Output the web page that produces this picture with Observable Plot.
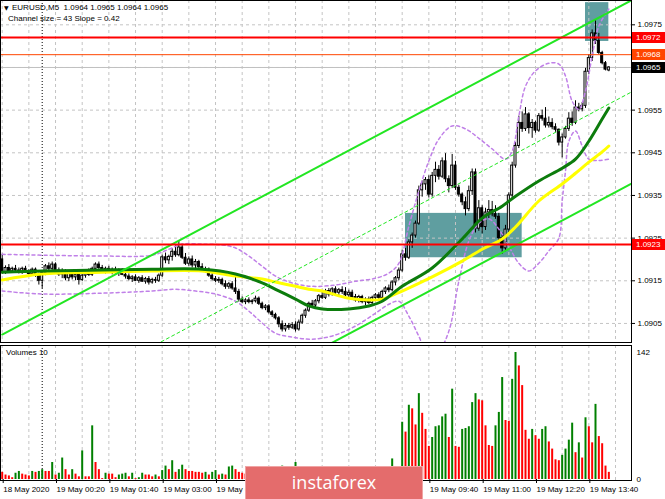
<!DOCTYPE html>
<html>
<head>
<meta charset="utf-8">
<script src="https://cdn.jsdelivr.net/npm/d3@7"></script>
<script src="https://cdn.jsdelivr.net/npm/@observablehq/plot@0.6"></script>
<style>
html,body{margin:0;padding:0;background:#fff;}
#chart{position:relative;width:665px;height:499px;overflow:hidden;background:#fff;font-family:"Liberation Sans",Arial,sans-serif;color:#000;}
#chart svg{position:absolute;left:0;}
.lbl{position:absolute;white-space:pre;font-size:8px;line-height:10px;}
.ln{position:absolute;background:#000;}
#logo{position:absolute;left:245px;top:466px;width:176px;height:32px;background:#e46c6c;border:1px solid #f0a4a4;color:#fff;font-family:"Open Sans",sans-serif;font-size:18px;line-height:31px;text-align:center;}
</style>
</head>
<body>
<div id="chart"></div>
<script>
// ---------- DATA ----------
const candleOpen = [
1.09200,1.09170,1.09180,1.09172,1.09178,1.09174,1.09170,1.09178,1.09172,1.09166,
1.09176,1.09162,1.09150,1.09168,1.09184,1.09178,1.09188,1.09174,1.09165,1.09170,
1.09156,1.09166,1.09158,1.09164,1.09152,1.09162,1.09172,1.09164,1.09178,1.09188,
1.09180,1.09172,1.09178,1.09170,1.09176,1.09168,1.09174,1.09164,1.09160,1.09154,
1.09158,1.09150,1.09156,1.09148,1.09154,1.09146,1.09152,1.09150,1.09162,1.09205,
1.09198,1.09206,1.09218,1.09210,1.09228,1.09204,1.09190,1.09200,1.09186,1.09194,
1.09182,1.09174,1.09176,1.09162,1.09154,1.09150,1.09152,1.09142,1.09136,1.09142,
1.09132,1.09124,1.09106,1.09100,1.09104,1.09100,1.09102,1.09108,1.09096,1.09086,
1.09090,1.09076,1.09070,1.09062,1.09048,1.09036,1.09044,1.09040,1.09046,1.09036,
1.09052,1.09068,1.09080,1.09096,1.09092,1.09102,1.09114,1.09110,1.09126,1.09118,
1.09130,1.09122,1.09128,1.09124,1.09116,1.09122,1.09112,1.09104,1.09112,1.09100,
1.09106,1.09098,1.09110,1.09116,1.09110,1.09124,1.09132,1.09128,1.09146,1.09156,
1.09174,1.09212,1.09204,1.09240,1.09256,1.09284,1.09362,1.09376,1.09386,1.09352,
1.09396,1.09410,1.09394,1.09430,1.09388,1.09372,1.09420,1.09368,1.09352,1.09334,
1.09318,1.09360,1.09404,1.09272,1.09320,1.09276,1.09310,1.09316,1.09306,1.09300,
1.09250,1.09226,1.09270,1.09350,1.09420,1.09466,1.09520,1.09506,1.09540,1.09508,
1.09520,1.09502,1.09536,1.09530,1.09514,1.09520,1.09510,1.09504,1.09474,1.09486,
1.09506,1.09530,1.09520,1.09556,1.09552,1.09560,1.09640,1.09672,1.09730,1.09712,
1.09684,1.09660,1.09643];
const candleHigh = [
1.09212,1.09185,1.09188,1.09182,1.09186,1.09180,1.09182,1.09184,1.09176,1.09180,
1.09180,1.09168,1.09172,1.09188,1.09192,1.09194,1.09192,1.09180,1.09178,1.09176,
1.09170,1.09172,1.09168,1.09170,1.09166,1.09176,1.09178,1.09182,1.09192,1.09194,
1.09186,1.09182,1.09184,1.09180,1.09182,1.09178,1.09178,1.09170,1.09166,1.09162,
1.09164,1.09160,1.09162,1.09158,1.09160,1.09156,1.09158,1.09166,1.09210,1.09215,
1.09210,1.09225,1.09232,1.09242,1.09236,1.09214,1.09206,1.09208,1.09200,1.09198,
1.09190,1.09182,1.09180,1.09168,1.09160,1.09158,1.09156,1.09150,1.09146,1.09148,
1.09162,1.09130,1.09112,1.09108,1.09110,1.09106,1.09114,1.09112,1.09100,1.09094,
1.09094,1.09080,1.09074,1.09066,1.09056,1.09050,1.09050,1.09052,1.09054,1.09058,
1.09072,1.09084,1.09100,1.09104,1.09106,1.09118,1.09126,1.09130,1.09132,1.09134,
1.09136,1.09132,1.09136,1.09134,1.09128,1.09128,1.09118,1.09116,1.09116,1.09110,
1.09112,1.09114,1.09120,1.09122,1.09128,1.09136,1.09140,1.09150,1.09160,1.09180,
1.09222,1.09226,1.09246,1.09262,1.09290,1.09372,1.09384,1.09392,1.09396,1.09404,
1.09428,1.09420,1.09438,1.09448,1.09396,1.09446,1.09430,1.09374,1.09356,1.09346,
1.09372,1.09412,1.09412,1.09338,1.09326,1.09320,1.09338,1.09336,1.09326,1.09308,
1.09262,1.09280,1.09356,1.09428,1.09474,1.09536,1.09546,1.09556,1.09544,1.09528,
1.09524,1.09542,1.09550,1.09556,1.09534,1.09530,1.09518,1.09506,1.09494,1.09512,
1.09544,1.09546,1.09572,1.09566,1.09568,1.09648,1.09680,1.09738,1.09760,1.09730,
1.09688,1.09664,1.09652];
const candleLow = [
1.09165,1.09165,1.09170,1.09168,1.09170,1.09166,1.09165,1.09170,1.09160,1.09162,
1.09158,1.09140,1.09132,1.09162,1.09174,1.09172,1.09170,1.09160,1.09155,1.09150,
1.09148,1.09152,1.09150,1.09140,1.09148,1.09156,1.09160,1.09160,1.09172,1.09176,
1.09168,1.09166,1.09168,1.09164,1.09166,1.09160,1.09162,1.09154,1.09150,1.09146,
1.09148,1.09144,1.09146,1.09142,1.09140,1.09142,1.09144,1.09146,1.09158,1.09190,
1.09188,1.09196,1.09205,1.09206,1.09200,1.09186,1.09184,1.09180,1.09178,1.09176,
1.09170,1.09168,1.09158,1.09150,1.09146,1.09144,1.09138,1.09130,1.09130,1.09128,
1.09118,1.09100,1.09096,1.09094,1.09096,1.09094,1.09098,1.09092,1.09082,1.09080,
1.09072,1.09064,1.09058,1.09040,1.09030,1.09030,1.09034,1.09036,1.09030,1.09032,
1.09048,1.09062,1.09076,1.09088,1.09086,1.09096,1.09106,1.09106,1.09112,1.09114,
1.09116,1.09114,1.09118,1.09112,1.09108,1.09108,1.09100,1.09098,1.09096,1.09092,
1.09094,1.09094,1.09104,1.09106,1.09106,1.09118,1.09122,1.09124,1.09138,1.09150,
1.09170,1.09196,1.09200,1.09226,1.09250,1.09280,1.09346,1.09362,1.09344,1.09346,
1.09380,1.09386,1.09390,1.09380,1.09356,1.09366,1.09362,1.09346,1.09326,1.09302,
1.09312,1.09350,1.09262,1.09266,1.09260,1.09268,1.09296,1.09300,1.09294,1.09240,
1.09212,1.09218,1.09262,1.09342,1.09414,1.09460,1.09498,1.09500,1.09494,1.09484,
1.09496,1.09498,1.09524,1.09508,1.09508,1.09504,1.09498,1.09466,1.09438,1.09482,
1.09500,1.09512,1.09516,1.09546,1.09546,1.09554,1.09634,1.09664,1.09704,1.09680,
1.09656,1.09642,1.09640];
const candleClose = [
1.09170,1.09180,1.09172,1.09178,1.09174,1.09170,1.09178,1.09172,1.09166,1.09176,
1.09162,1.09150,1.09168,1.09184,1.09178,1.09188,1.09174,1.09165,1.09170,1.09156,
1.09166,1.09158,1.09164,1.09152,1.09162,1.09172,1.09164,1.09178,1.09188,1.09180,
1.09172,1.09178,1.09170,1.09176,1.09168,1.09174,1.09164,1.09160,1.09154,1.09158,
1.09150,1.09156,1.09148,1.09154,1.09146,1.09152,1.09150,1.09162,1.09205,1.09198,
1.09206,1.09218,1.09210,1.09228,1.09204,1.09190,1.09200,1.09186,1.09194,1.09182,
1.09174,1.09176,1.09162,1.09154,1.09150,1.09152,1.09142,1.09136,1.09142,1.09132,
1.09124,1.09106,1.09100,1.09104,1.09100,1.09102,1.09108,1.09096,1.09086,1.09090,
1.09076,1.09070,1.09062,1.09048,1.09036,1.09044,1.09040,1.09046,1.09036,1.09052,
1.09068,1.09080,1.09096,1.09092,1.09102,1.09114,1.09110,1.09126,1.09118,1.09130,
1.09122,1.09128,1.09124,1.09116,1.09122,1.09112,1.09104,1.09112,1.09100,1.09106,
1.09098,1.09110,1.09116,1.09110,1.09124,1.09132,1.09128,1.09146,1.09156,1.09174,
1.09212,1.09204,1.09240,1.09256,1.09284,1.09362,1.09376,1.09386,1.09352,1.09396,
1.09410,1.09394,1.09430,1.09388,1.09372,1.09420,1.09368,1.09352,1.09334,1.09318,
1.09360,1.09404,1.09272,1.09320,1.09276,1.09310,1.09316,1.09306,1.09300,1.09250,
1.09226,1.09270,1.09350,1.09420,1.09466,1.09520,1.09506,1.09540,1.09508,1.09520,
1.09502,1.09536,1.09530,1.09514,1.09520,1.09510,1.09504,1.09474,1.09486,1.09506,
1.09530,1.09520,1.09556,1.09552,1.09560,1.09640,1.09672,1.09730,1.09712,1.09684,
1.09660,1.09645,1.09650];
const volumes = [
8,5,4,2,7,9,6,5,4,9,
8,9,11,9,9,19,5,7,24,11,
5,11,6,3,32,3,3,60,19,11,
1,7,6,6,2,5,6,7,3,7,
1,2,7,5,5,3,5,3,10,15,
11,21,8,11,16,11,9,9,8,8,
7,8,5,8,10,5,6,5,14,15,
11,8,7,6,4,7,9,5,8,6,
10,7,9,11,15,9,7,10,19,12,
10,8,11,7,6,9,5,7,4,6,
8,5,3,6,4,7,5,8,6,4,
7,9,6,10,8,11,9,23,12,10,
64,53,83,79,61,96,74,56,37,47,
59,60,70,73,47,101,37,36,56,57,
59,86,96,89,88,60,38,37,60,75,
114,66,65,112,142,127,105,55,45,56,
49,45,56,59,42,34,22,21,27,34,
44,63,30,41,24,69,59,41,84,48,
40,15,8];
// moving averages read at sample bars
const maBars = [0,12,30,45,60,70,78,82,88,92,96,104,110,114,120,129,138,144,150,154,161,168,172,176,180,182];
const maFast = [1.09170,1.09173,1.09175,1.09177,1.09177,1.09166,1.09145,1.09130,1.09107,1.09091,1.09084,1.09084,1.09091,1.09102,1.09137,1.09180,1.09248,1.09297,1.09325,1.09348,1.09384,1.09414,1.09435,1.09477,1.09529,1.09555];
const maSlow = [1.09152,1.09166,1.09170,1.09173,1.09173,1.09161,1.09154,1.09147,1.09137,1.09130,1.09126,1.09109,1.09105,1.09107,1.09126,1.09159,1.09196,1.09224,1.09248,1.09276,1.09337,1.09377,1.09402,1.09428,1.09452,1.09466];
// envelope bands read at sample bars
const upperBars = [0,30,45,50,54,60,66,70,74,78,82,87,93,100,106,112,116,119,122,125,128,131,135,139,143,147,151,153,155,157,160,164,167,169,171,173,175,177,179,182];
const upperBand = [1.09212,1.09208,1.09210,1.09224,1.09236,1.09236,1.09234,1.09227,1.09208,1.09184,1.09161,1.09145,1.09137,1.09140,1.09149,1.09156,1.09168,1.09191,1.09278,1.09360,1.09431,1.09482,1.09513,1.09506,1.09484,1.09459,1.09435,1.09454,1.09536,1.09606,1.09642,1.09660,1.09658,1.09630,1.09571,1.09552,1.09595,1.09677,1.09747,1.09787];
const lowerBars = [0,12,30,45,52,58,64,70,74,78,82,87,93,100,106,112,116,119,122,125,128,131,134,137,140,143,146,149,152,155,158,161,164,167,168,169,170,172,174,176,179,182];
const lowerBand = [1.09126,1.09119,1.09121,1.09126,1.09130,1.09126,1.09119,1.09102,1.09079,1.09051,1.09027,1.09018,1.09013,1.09023,1.09044,1.09074,1.09095,1.09102,1.09067,1.09020,1.08973,1.08985,1.09032,1.09149,1.09243,1.09285,1.09295,1.09271,1.09231,1.09191,1.09173,1.09191,1.09220,1.09250,1.09337,1.09407,1.09477,1.09501,1.09466,1.09435,1.09432,1.09435];
// equidistant channel
const channelStart = 1.09024;   // upper line price at bar 0
const channelSlope = 0.0000415; // per bar
const channelSize = 0.0043;
// rectangles (bar from, bar to, price low, price high)
const boxFrom = [121, 175];
const boxTo = [156, 182];
const boxLow = [1.09204, 1.09711];
const boxHigh = [1.09308, 1.09802];
// horizontal levels
const levelPrices = [1.0972, 1.0968, 1.09235];
const levelLabels = ["1.0972", "1.0968", "1.0923"];
const bidPrice = 1.0965;
const bidLabel = "1.0965";
// axes
const priceTicks = [1.0905, 1.0915, 1.0925, 1.0935, 1.0945, 1.0955, 1.0975];
const gridPrices = [1.0905, 1.0915, 1.0925, 1.0935, 1.0945, 1.0955, 1.0965, 1.0975];
// time labels that the reference shows (the ones under the logo are hidden there)
const timeTickBars = [0,16,32,48,64,128,144,160,176];
const timeTickLabels = ["18 May 2020","19 May 00:20","19 May 01:40","19 May 03:00","19 May 04:20","19 May 09:40","19 May 11:00","19 May 12:20","19 May 13:40"];
const gridBars = d3.range(0, 189, 8);
const daySeparatorBar = 12;
const volumeTicks = [0, 142];

// ---------- BUILD ----------
const chart = document.getElementById("chart");
const xDomain = [-0.51, 188.8];
const bars = candleOpen.map((o, i) => ({i, o, h: candleHigh[i], l: candleLow[i], c: candleClose[i]}));
const vols = volumes.map((v, i) => ({i, v, col: (i > 0 && v > volumes[i - 1]) ? "#008000" : "#ff0000"}));
const fast = maBars.map((b, k) => ({i: b, p: maFast[k]}));
const slow = maBars.map((b, k) => ({i: b, p: maSlow[k]}));
const upper = upperBars.map((b, k) => ({i: b, p: upperBand[k]}));
const lower = lowerBars.map((b, k) => ({i: b, p: lowerBand[k]}));
const chanEnd = 189;
const chan = [0, 0.5, 1].map(f => [
  {i: 0, p: channelStart - f * channelSize},
  {i: chanEnd, p: channelStart + chanEnd * channelSlope - f * channelSize}
]);
const boxes = boxFrom.map((b, k) => ({i1: b, i2: boxTo[k], p1: boxLow[k], p2: boxHigh[k]}));
const levelColors = ["#ff0000", "#ff4500", "#ff0000"];
const levelWidths = [2, 1, 2];
const levels = levelPrices.map((p, k) => ({p, col: levelColors[k], w: levelWidths[k]}));

const fontStyle = {fontFamily: "'Liberation Sans', Arial, sans-serif", fontSize: "8px", background: "transparent", overflow: "visible"};
const gridOpts = {stroke: "#c4c4c4", strokeDasharray: "3,3"};

const main = Plot.plot({
  width: 665, height: 343,
  marginLeft: 0, marginRight: 34, marginTop: 0, marginBottom: 0,
  x: {domain: xDomain, axis: null, label: null},
  y: {domain: [1.09003, 1.09807], label: null},
  style: fontStyle,
  marks: [
    Plot.rect(boxes, {x1: "i1", x2: "i2", y1: "p1", y2: "p2", fill: "#5f9ea0"}),
    Plot.ruleY(gridPrices, gridOpts),
    Plot.ruleX(gridBars, gridOpts),
    Plot.ruleX([daySeparatorBar], {stroke: "#000", strokeDasharray: "1,2"}),
    Plot.ruleY([bidPrice], {stroke: "#c0c0c0"}),
    Plot.ruleX(bars, {x: "i", y1: "l", y2: "h", stroke: "#000"}),
    Plot.rect(bars, {x1: d => d.i - 0.3, x2: d => d.i + 0.3, y1: "o", y2: "c",
      fill: d => d.c >= d.o ? "#ffffff" : "#000000", stroke: "#000"}),
    Plot.line(upper, {x: "i", y: "p", stroke: "#c080e8", strokeDasharray: "3,3", curve: "catmull-rom", clip: true}),
    Plot.line(lower, {x: "i", y: "p", stroke: "#c080e8", strokeDasharray: "3,3", curve: "catmull-rom", clip: true}),
    Plot.line(slow, {x: "i", y: "p", stroke: "#ffff00", strokeWidth: 3, curve: "catmull-rom", clip: true}),
    Plot.line(fast, {x: "i", y: "p", stroke: "#0c7c0c", strokeWidth: 3, curve: "catmull-rom", clip: true}),
    Plot.line(chan[0], {x: "i", y: "p", stroke: "#22e622", strokeWidth: 2, clip: true}),
    Plot.line(chan[1], {x: "i", y: "p", stroke: "#22e622", strokeWidth: 1, strokeDasharray: "3,3", clip: true}),
    Plot.line(chan[2], {x: "i", y: "p", stroke: "#22e622", strokeWidth: 2, clip: true}),
    Plot.ruleY(levels, {y: "p", stroke: "col", strokeWidth: "w"}),
    Plot.axisY({anchor: "right", ticks: priceTicks, tickFormat: d => d.toFixed(4), tickSize: 3, tickPadding: 3})
  ]
});
main.style.top = "0px";
chart.appendChild(main);

// price tags on the right axis, placed with the plot's own y scale
const sy = main.scale("y");
const yPix = sy.apply ? (v => sy.apply(v)) : d3.scaleLinear(sy.domain, sy.range);
const tagSel = d3.select(main).append("g").attr("text-anchor", "start");
const tags = levels.map((l, k) => ({p: l.p, label: levelLabels[k], fill: l.col}))
  .concat([{p: bidPrice, label: bidLabel, fill: "#000"}]);
tags.forEach(t => {
  const y = Math.round(yPix(t.p));
  tagSel.append("rect").attr("x", 632).attr("y", y - 5).attr("width", 33).attr("height", 11).attr("fill", t.fill);
  tagSel.append("text").attr("x", 636).attr("y", y + 0.5).attr("dy", "0.35em").attr("text-anchor", "start")
    .attr("fill", "#fff").attr("font-size", 8).text(t.label);
});

const vol = Plot.plot({
  width: 665, height: 154,
  marginLeft: 0, marginRight: 34, marginTop: 7, marginBottom: 20,
  x: {domain: xDomain, label: null},
  y: {domain: [0, 142], label: null},
  style: fontStyle,
  marks: [
    Plot.ruleX(gridBars, {...gridOpts, insetTop: -7, insetBottom: -1}),
    Plot.ruleX([daySeparatorBar], {stroke: "#000", strokeDasharray: "1,2", insetTop: -7, insetBottom: -1}),
    Plot.ruleX(vols, {x: "i", y1: 0, y2: "v", stroke: "col", strokeWidth: 2}),
    Plot.axisY({anchor: "right", ticks: volumeTicks, tickSize: 0, tickPadding: 5}),
    Plot.axisX({anchor: "bottom", ticks: timeTickBars, tickFormat: d => timeTickLabels[timeTickBars.indexOf(d)],
      tickSize: 4, tickPadding: 3, textAnchor: "start", dx: 1})
  ]
});
vol.style.top = "345px";
chart.appendChild(vol);

// panel frames
function ln(l, t, w, h) { const d = document.createElement("div"); d.className = "ln";
  Object.assign(d.style, {left: l + "px", top: t + "px", width: w + "px", height: h + "px"}); chart.appendChild(d); }
ln(0, 0, 632, 1); ln(0, 0, 1, 343); ln(631, 0, 1, 343); ln(0, 342, 632, 1);
ln(0, 345, 632, 1); ln(0, 345, 1, 136); ln(631, 345, 1, 136); ln(0, 480, 632, 1);

// texts
function lbl(txt, l, t, extra) { const d = document.createElement("div"); d.className = "lbl"; d.textContent = txt;
  Object.assign(d.style, {left: l + "px", top: t + "px"}, extra || {}); chart.appendChild(d); }
lbl("\u25BC", 4, 3, {fontFamily: "'DejaVu Sans', sans-serif", fontSize: "6px"});
lbl("EURUSD,M5  1.0964 1.0965 1.0964 1.0965", 12, 3);
lbl("Channel size = 43 Slope = 0.42", 8, 14);
lbl("Volumes 10", 6, 348);

const logo = document.createElement("div");
logo.id = "logo"; logo.textContent = "instaforex";
chart.appendChild(logo);
</script>
</body>
</html>
